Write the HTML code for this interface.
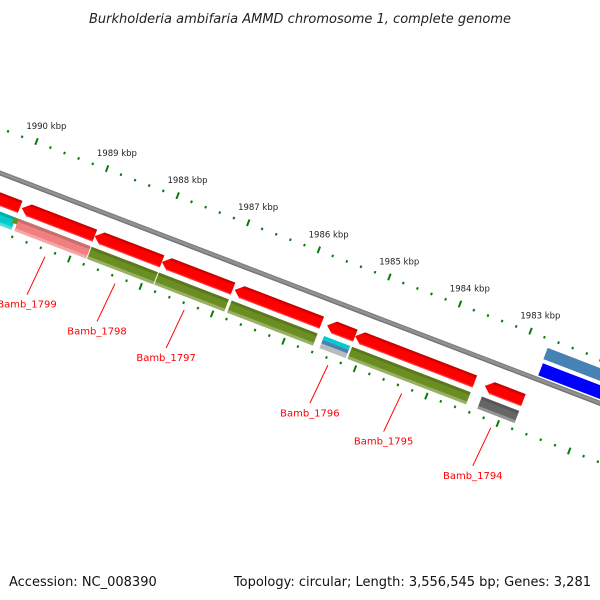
<!DOCTYPE html>
<html><head><meta charset="utf-8">
<style>
html,body{margin:0;padding:0;background:#fff;}
svg{display:block;font-family:"DejaVu Sans","Liberation Sans",sans-serif;}
</style></head>
<body>
<svg id="chart" width="600" height="600" viewBox="0 0 600 600" xmlns="http://www.w3.org/2000/svg">
<defs>
<linearGradient id="gRed" x1="0" y1="0" x2="0" y2="1">
<stop offset="0" stop-color="#b80000"/><stop offset="0.25" stop-color="#ff0000"/><stop offset="0.8" stop-color="#ff0000"/><stop offset="1" stop-color="#ff8080"/></linearGradient>
<linearGradient id="gBack" x1="0" y1="0" x2="0" y2="1">
<stop offset="0" stop-color="#777"/><stop offset="0.5" stop-color="#999"/><stop offset="1" stop-color="#666"/></linearGradient>
</defs>
<text x="300" y="23" text-anchor="middle" font-size="13" font-style="italic" fill="#222">Burkholderia ambifaria AMMD chromosome 1, complete genome</text>
<g id="track" transform="translate(0,173) rotate(21)">
<rect x="-100" y="-2.5" width="900" height="5" fill="url(#gBack)"/>
</g>
<g id="labels"></g>
<text x="9" y="586" font-size="13" fill="#111">Accession: NC_008390</text>
<text x="591" y="586" font-size="13" fill="#111" text-anchor="end">Topology: circular; Length: 3,556,545 bp; Genes: 3,281</text>
</svg>
<script>
const tickLabels = ["1990 kbp","1989 kbp","1988 kbp","1987 kbp","1986 kbp","1985 kbp","1984 kbp","1983 kbp"];
const geneStarts = [-60, 33, 111, 183, 261, 360, 390, 529];
const geneEnds   = [31, 111, 183, 259, 354, 390, 518, 570];
const cdsColors  = ["#00cccc","#f08080","#6b8e23","#6b8e23","#6b8e23","mixed","#6b8e23","#666666"];
const geneNames  = ["","Bamb_1799","Bamb_1798","Bamb_1797","","Bamb_1796","Bamb_1795","Bamb_1794"];
const labelAnchorIdx = [1,2,3,4,5,6,7];
const NS="http://www.w3.org/2000/svg";
const track=document.getElementById('track');
const labels=document.getElementById('labels');
const A=21*Math.PI/180, C=Math.cos(A), S=Math.sin(A);
function scr(u,v){return [u*C - v*S, 173 + u*S + v*C];}
function el(tag,attrs,parent){const e=document.createElementNS(NS,tag);for(const k in attrs)e.setAttribute(k,attrs[k]);parent.appendChild(e);return e;}
// rulers
const kbpW=75.6;
for(let k=-1;k<=9;k++){
  for(let m=0;m<5;m++){
    const u=22.8+kbpW*k+m*kbpW/5;
    if(m===0){
      const t=el('rect',{x:u-1,y:-46,width:2,height:7,fill:'#0a7a0a'},track);
      
      
    } else {
      const t=el('rect',{x:u-1,y:-43,width:2,height:2.5,fill:'#0a7a0a'},track);
      
      
    }
    const ub=95.5+76.5*(k-1)+m*76.5/5;
    if(m===0){
      const t=el('rect',{x:ub-1,y:52,width:2,height:7,fill:'#0a7a0a'},track);
      
      
    } else {
      const t=el('rect',{x:ub-1,y:54,width:2,height:2.5,fill:'#0a7a0a'},track);
      
      
    }
  }
}
tickLabels.forEach((lab,k)=>{
  const [x,y]=scr(22.8+kbpW*k,-42);
  const t=el('text',{x:x-10,y:y-13,'font-size':'8.5',fill:'#222'},labels);
  t.textContent=lab;
  
  
});
// genes
geneStarts.forEach((s,i)=>{
  const e=geneEnds[i];
  const tip=Math.min(8,(e-s)/3);
  const p=el('polygon',{points:`${s},25 ${s+tip},18 ${e},18 ${e},31 ${s+tip},31 ${s+tip},32 `,fill:'url(#gRed)'},track);
  
  
  const col=cdsColors[i];
  if(col==='mixed'){
    const parts=[["#00cccc",36,40],["#4682b4",40,44],["#bbbbbb",44,49]];
    parts.forEach(q=>{
      const r=el('rect',{x:s+1,y:q[1],width:e-s-2,height:q[2]-q[1],fill:q[0]},track);
      
      
    });
  } else {
    const r=el('rect',{x:s+1,y:36,width:e-s-1,height:13,fill:col},track);
    
    
    const sh=el('rect',{x:s+1,y:36,width:e-s-1,height:3,fill:'#000',opacity:'0.15'},track);
    
    
    const hl=el('rect',{x:s+1,y:46,width:e-s-1,height:3,fill:'#fff',opacity:'0.3'},track);
    
    
  }
  if(i===0){
    const o=el('rect',{x:29,y:36,width:81,height:6,fill:'#6b8e23'},track);
    
    
  }
});
// reverse-strand features on the right
const r1=el('rect',{x:574,y:-33,width:200,height:12,fill:'#4682b4'},track);


const r2=el('rect',{x:575,y:-17,width:200,height:13,fill:'#0000ff'},track);


// gene labels
geneNames.forEach((nm,i)=>{
  if(!nm)return;
  const mid=(geneStarts[i]+geneEnds[i])/2;
  const [x1,y1]=scr(mid,62);
  const l=el('line',{x1:x1,y1:y1,x2:x1-18,y2:y1+38,stroke:'#f00','stroke-width':1},labels);
  
  
  const t=el('text',{x:x1-18,y:y1+51,'font-size':'10',fill:'#f00','text-anchor':'middle'},labels);
  t.textContent=nm;
  
  
});
</script>
</body></html>
